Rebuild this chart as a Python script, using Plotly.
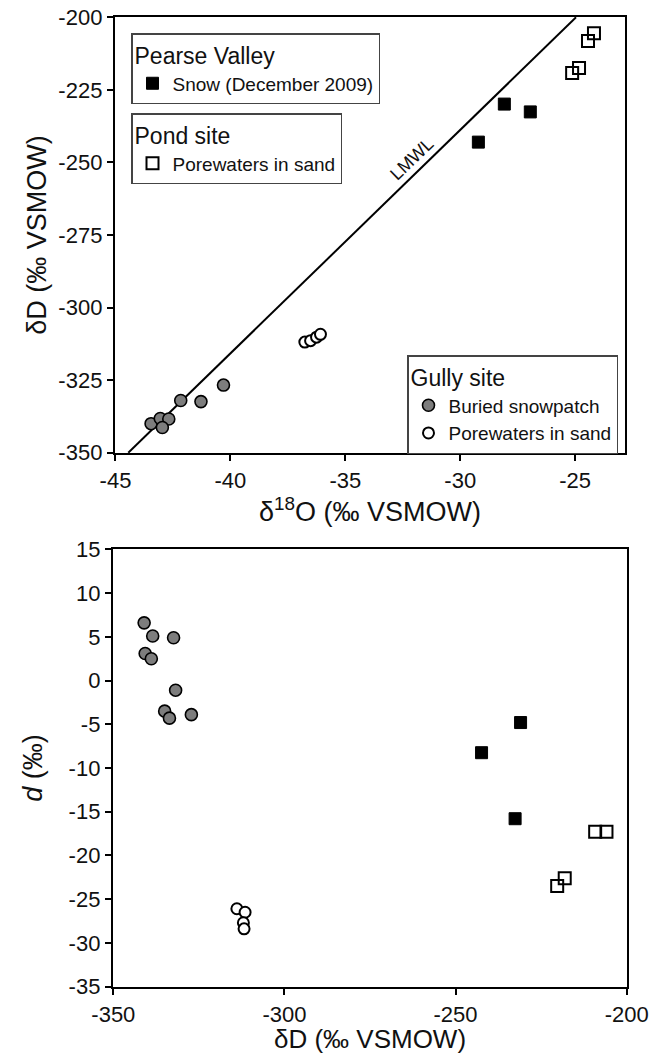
import plotly.graph_objects as go
from plotly.subplots import make_subplots

# ---------------- data ----------------
# Top panel: d18O vs dD
snow_d18o = [-28.08, -26.95, -29.21]
snow_dD = [-229.9, -232.6, -243.0]
pond_d18o = [-24.18, -24.44, -24.83, -25.13]
pond_dD = [-205.5, -208.2, -217.5, -219.2]
gully_snow_d18o = [-43.45, -43.05, -42.68, -42.96, -42.16, -41.28, -40.30]
gully_snow_dD = [-340.0, -338.2, -338.4, -341.3, -332.0, -332.4, -326.7]
gully_pore_d18o = [-36.76, -36.51, -36.25, -36.08]
gully_pore_dD = [-311.9, -311.4, -310.2, -309.2]

# Local meteoric water line: dD = slope * d18O + intercept
LMWL_SLOPE = 7.7
LMWL_INTERCEPT = -7.8
LMWL_DD_LIMITS = [-350, -200]

# Bottom panel: dD vs deuterium excess d
snow_dD_b = [-231.0, -242.4, -232.6]
snow_dex = [-4.8, -8.25, -15.8]
pond_dD_b = [-205.9, -209.2, -218.1, -220.3]
pond_dex = [-17.3, -17.3, -22.6, -23.5]
gully_snow_dD_b = [-341.0, -338.5, -332.4, -340.7, -338.9, -331.8, -335.0, -333.6, -327.2]
gully_snow_dex = [6.6, 5.1, 4.9, 3.1, 2.5, -1.1, -3.5, -4.3, -3.9]
gully_pore_dD_b = [-313.9, -311.5, -312.0, -311.8]
gully_pore_dex = [-26.1, -26.5, -27.7, -28.4]

# axis ticks
top_x_ticks = [-45, -40, -35, -30, -25]
top_y_ticks = [-350, -325, -300, -275, -250, -225, -200]
bot_x_ticks = [-350, -300, -250, -200]
bot_y_ticks = [-35, -30, -25, -20, -15, -10, -5, 0, 5, 10, 15]


def labels(vals):
    return [str(v) for v in vals]


# ---------------- styles ----------------
FONT = "Liberation Sans, Arial, Helvetica, sans-serif"
W, H = 664, 1054
ML, MR, MT, MB = 113, 36, 17, 67
PW, PH = W - ML - MR, H - MT - MB


def px_x(p):
    return (p - ML) / PW


def px_y(p):
    return (H - MB - p) / PH


snow_style = dict(symbol="square", size=12, color="black", line=dict(color="black", width=1))
pond_style = dict(symbol="square-open", size=12, color="black", line=dict(width=2))
grey_style = dict(symbol="circle", size=12, color="#7d7d7d", line=dict(color="black", width=1.6))
open_circ_style = dict(symbol="circle", size=11, color="white", line=dict(color="black", width=2))

fig = make_subplots(rows=2, cols=1)

# LMWL line computed from slope/intercept
lmwl_x = [(v - LMWL_INTERCEPT) / LMWL_SLOPE for v in LMWL_DD_LIMITS]
fig.add_trace(go.Scatter(x=lmwl_x, y=LMWL_DD_LIMITS, mode="lines",
                         line=dict(color="black", width=2), showlegend=False,
                         hoverinfo="skip"), row=1, col=1)

fig.add_trace(go.Scatter(x=snow_d18o, y=snow_dD, mode="markers", marker=snow_style,
                         name="Snow (December 2009)", legend="legend"), row=1, col=1)
fig.add_trace(go.Scatter(x=pond_d18o, y=pond_dD, mode="markers", marker=pond_style,
                         name="Porewaters in sand", legend="legend2"), row=1, col=1)
fig.add_trace(go.Scatter(x=gully_snow_d18o, y=gully_snow_dD, mode="markers", marker=grey_style,
                         name="Buried snowpatch", legend="legend3"), row=1, col=1)
fig.add_trace(go.Scatter(x=gully_pore_d18o, y=gully_pore_dD, mode="markers", marker=open_circ_style,
                         name="Porewaters in sand", legend="legend3"), row=1, col=1)

# bottom panel
fig.add_trace(go.Scatter(x=snow_dD_b, y=snow_dex, mode="markers", marker=snow_style,
                         showlegend=False), row=2, col=1)
fig.add_trace(go.Scatter(x=pond_dD_b, y=pond_dex, mode="markers", marker=pond_style,
                         showlegend=False), row=2, col=1)
fig.add_trace(go.Scatter(x=gully_snow_dD_b, y=gully_snow_dex, mode="markers", marker=grey_style,
                         showlegend=False), row=2, col=1)
fig.add_trace(go.Scatter(x=gully_pore_dD_b, y=gully_pore_dex, mode="markers", marker=open_circ_style,
                         showlegend=False), row=2, col=1)

axis_common = dict(showgrid=False, zeroline=False, showline=True, linecolor="black",
                   linewidth=2.4, mirror=True, ticks="outside", ticklen=6, tickwidth=2,
                   tickcolor="black", automargin=False,
                   tickfont=dict(family=FONT, size=22, color="#111"),
                   title_font=dict(family=FONT, size=27, color="#111"))

fig.update_xaxes(axis_common)
fig.update_yaxes(axis_common)

fig.update_xaxes(range=[-45.02, -22.83], tickvals=top_x_ticks, ticktext=labels(top_x_ticks),
                 domain=[px_x(115), px_x(625)],
                 title=dict(text="δ<sup>18</sup>O (‰ VSMOW)", standoff=0), row=1, col=1)
fig.update_yaxes(range=[-350.1, -199.9], tickvals=top_y_ticks, ticktext=labels(top_y_ticks),
                 domain=[px_y(453), px_y(17)],
                 title=dict(text="δD (‰ VSMOW)", standoff=4), row=1, col=1)
fig.update_xaxes(range=[-350.1, -199.9], tickvals=bot_x_ticks, ticktext=labels(bot_x_ticks),
                 domain=[px_x(113), px_x(627)],
                 title=dict(text="δD (‰ VSMOW)", standoff=0, font=dict(size=26)), row=2, col=1)
fig.update_yaxes(range=[-35.05, 15.05], tickvals=bot_y_ticks, ticktext=labels(bot_y_ticks),
                 domain=[px_y(987), px_y(549)],
                 title=dict(text="<i>d</i> (‰)", standoff=18), row=2, col=1)

legend_common = dict(bgcolor="white", bordercolor="#444", borderwidth=1.5,
                     font=dict(family=FONT, size=19, color="#111"),
                     xanchor="left", yanchor="top", itemclick=False, tracegroupgap=0)

fig.update_layout(
    template="none",
    width=W, height=H,
    margin=dict(l=ML, r=MR, t=MT, b=MB, autoexpand=False),
    paper_bgcolor="white", plot_bgcolor="white",
    font=dict(family=FONT, color="#111"),
    showlegend=True,
    legend=dict(legend_common, x=px_x(131), y=px_y(33),
                title=dict(text="Pearse Valley", font=dict(family=FONT, size=23))),
    legend2=dict(legend_common, x=px_x(131), y=px_y(113),
                 title=dict(text="Pond site", font=dict(family=FONT, size=23))),
    legend3=dict(legend_common, x=px_x(407), y=px_y(355),
                 title=dict(text="Gully site", font=dict(family=FONT, size=23))),
)

# LMWL label placed along the line
lab_dD = -252.0
lab_x = (lab_dD - LMWL_INTERCEPT) / LMWL_SLOPE
fig.add_annotation(x=lab_x, y=lab_dD, xref="x", yref="y", text="LMWL", showarrow=False,
                   textangle=-44, xshift=-9, yshift=9,
                   font=dict(family=FONT, size=18, color="#111"))

fig.write_html("out.html", config={"displayModeBar": False},
               post_script="document.body.style.margin='0px';document.body.style.overflow='hidden';")
